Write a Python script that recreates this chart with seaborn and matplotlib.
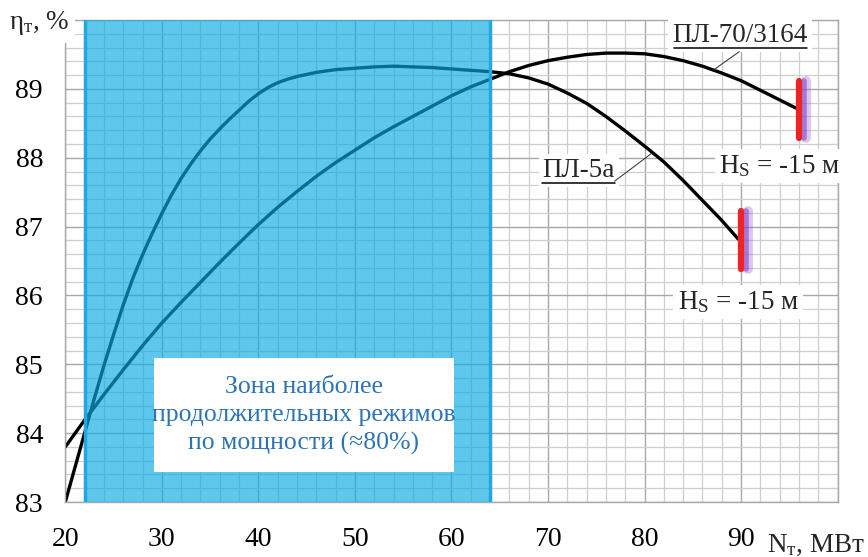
import numpy as np
import pandas as pd
import seaborn as sns
import matplotlib.pyplot as plt
from matplotlib.patches import Rectangle
from matplotlib.ticker import MultipleLocator

# curves (N, MW -> efficiency, %)
pl5a_n = [20, 21, 22, 23, 24, 25, 26, 27, 28, 29, 30, 31, 32, 33, 34, 35, 36,
          37, 38, 39, 40, 41, 42, 43, 44, 45, 46, 48, 50, 52, 54, 56, 58, 60,
          62, 64, 66, 68, 70, 72, 74, 76, 78, 80, 82, 84, 86, 88, 89.7]
pl5a_eta = [83.0, 83.5, 84.0, 84.5, 84.98, 85.43, 85.86, 86.25, 86.59, 86.9,
            87.19, 87.46, 87.7, 87.91, 88.1, 88.27, 88.42, 88.56, 88.69, 88.82,
            88.93, 89.02, 89.09, 89.14, 89.18, 89.21, 89.24, 89.28, 89.3, 89.32,
            89.33, 89.32, 89.31, 89.29, 89.27, 89.25, 89.22, 89.16, 89.07, 88.94,
            88.79, 88.6, 88.39, 88.17, 87.94, 87.67, 87.38, 87.09, 86.82]

pl70_n = [20, 22, 24, 26, 28, 30, 32, 34, 36, 38, 40, 42, 44, 46, 48, 50, 52,
          54, 56, 58, 60, 62, 64, 66, 68, 70, 72, 74, 76, 78, 80, 82, 84, 86,
          88, 90, 92, 94, 95.7]
pl70_eta = [83.8, 84.19, 84.56, 84.92, 85.27, 85.6, 85.9, 86.19, 86.48, 86.76,
            87.03, 87.28, 87.51, 87.73, 87.93, 88.11, 88.29, 88.45, 88.6, 88.75,
            88.9, 89.03, 89.14, 89.25, 89.34, 89.41, 89.46, 89.5, 89.52, 89.52,
            89.51, 89.47, 89.41, 89.33, 89.23, 89.12, 88.98, 88.84, 88.72]

# cavitation limit bars (Hs = -15 m)
hs_n = [90, 96]
hs_lo = [86.39, 88.28]
hs_hi = [87.22, 89.11]

zone = [22, 64]
x_ticks = [20, 30, 40, 50, 60, 70, 80, 90, 100]
x_labels = ['20', '30', '40', '50', '60', '70', '80', '90', '']
y_ticks = [83, 84, 85, 86, 87, 88, 89]

sns.set_style('white')
plt.rcParams['font.family'] = ['Liberation Serif', 'DejaVu Serif']
plt.rcParams['mathtext.fontset'] = 'custom'
plt.rcParams['mathtext.rm'] = 'Liberation Serif'
plt.rcParams['mathtext.it'] = 'Liberation Serif:italic'

fig, ax = plt.subplots(figsize=(8.68, 5.57), dpi=100)
fig.subplots_adjust(left=0.0752, right=0.965, bottom=0.0987, top=0.964)

df5 = pd.DataFrame({'N': pl5a_n, 'eta': pl5a_eta})
df70 = pd.DataFrame({'N': pl70_n, 'eta': pl70_eta})
sns.lineplot(data=df5, x='N', y='eta', ax=ax, color='black', lw=2.4, zorder=2,
             solid_joinstyle='round')
sns.lineplot(data=df70, x='N', y='eta', ax=ax, color='black', lw=2.4, zorder=2,
             solid_joinstyle='round')

ax.set_xlim(20, 100)
ax.set_ylim(83, 90)
ax.set_xticks(x_ticks)
ax.set_xticklabels(x_labels)
ax.set_yticks(y_ticks)
ax.xaxis.set_minor_locator(MultipleLocator(2))
ax.yaxis.set_minor_locator(MultipleLocator(0.2))
ax.set_axisbelow(True)
ax.grid(which='major', color='#a8a8a8', lw=1.0)
ax.grid(which='minor', color='#cfcfcf', lw=0.9)
ax.tick_params(which='major', direction='out', length=6, width=1, color='#a8a8a8',
               labelsize=20, labelcolor='black')
ax.tick_params(axis='x', pad=12)
ax.tick_params(axis='y', pad=10)
ax.tick_params(which='minor', length=0)
for s in ax.spines.values():
    s.set_color('#a8a8a8')
    s.set_linewidth(1.0)
ax.set_xlabel('')
ax.set_ylabel('')

# blue zone of the most frequent regimes
ax.axvspan(zone[0], zone[1], color=(8 / 255, 171 / 255, 226 / 255), alpha=0.65,
           lw=0, zorder=3)
for z in zone:
    ax.axvline(z, color='#22a7e2', lw=2.5, zorder=4)

ax.add_patch(Rectangle((29.2, 83.43), 31.1, 1.66, facecolor='white',
                       edgecolor='none', zorder=5))
ax.text(44.7, 84.26, 'Зона наиболее\nпродолжительных режимов\nпо мощности (≈80%)',
        ha='center', va='center', color='#2e74b5', fontsize=18.5,
        linespacing=1.35, zorder=6)

# curve labels
ax.text(89.9, 89.77, 'ПЛ-70/3164', ha='center', va='center', fontsize=19.5,
        zorder=6, bbox=dict(facecolor='white', edgecolor='none', pad=3))
ax.plot([83.1, 96.8], [89.6, 89.6], color='black', lw=1.1, zorder=7)
ax.plot([87.2, 89.8], [89.28, 89.54], color='#404040', lw=0.8, zorder=7)

ax.text(73.2, 87.82, 'ПЛ-5а', ha='center', va='center', fontsize=19.5,
        zorder=6, bbox=dict(facecolor='white', edgecolor='none', pad=3))
ax.plot([69.4, 76.9], [87.63, 87.63], color='black', lw=1.1, zorder=7)
ax.plot([76.9, 80.7], [87.66, 88.06], color='#404040', lw=0.8, zorder=7)

hs_text = 'H$_\\mathrm{S}$ = -15 м'
ax.text(94.0, 87.88, hs_text, ha='center', va='center', fontsize=19.5,
        zorder=6, bbox=dict(facecolor='white', edgecolor='none', pad=3))
ax.text(89.7, 85.9, hs_text, ha='center', va='center', fontsize=19.5,
        zorder=6, bbox=dict(facecolor='white', edgecolor='none', pad=3))

for n, lo, hi in zip(hs_n, hs_lo, hs_hi):
    ax.plot([n + 0.75, n + 0.75], [lo, hi], color='#9a5ad8', lw=7, alpha=0.35,
            solid_capstyle='round', zorder=7)
    ax.plot([n + 0.55, n + 0.55], [lo, hi], color='#7a3cc4', lw=4, alpha=0.55,
            solid_capstyle='round', zorder=7)
    ax.plot([n, n], [lo, hi], color='#ee2424', lw=4.5,
            solid_capstyle='round', zorder=8)

# axis titles
ax.text(17.3, 89.95, 'η$_\\mathrm{т}$, %', ha='center', va='center', fontsize=19.5,
        clip_on=False, zorder=9,
        bbox=dict(facecolor='white', edgecolor='none', pad=4))
ax.text(97.8, 82.37, 'N$_\\mathrm{т}$, МВт', ha='center', va='center',
        fontsize=19.5, clip_on=False, zorder=9)

fig.savefig('out.png', dpi=100)
